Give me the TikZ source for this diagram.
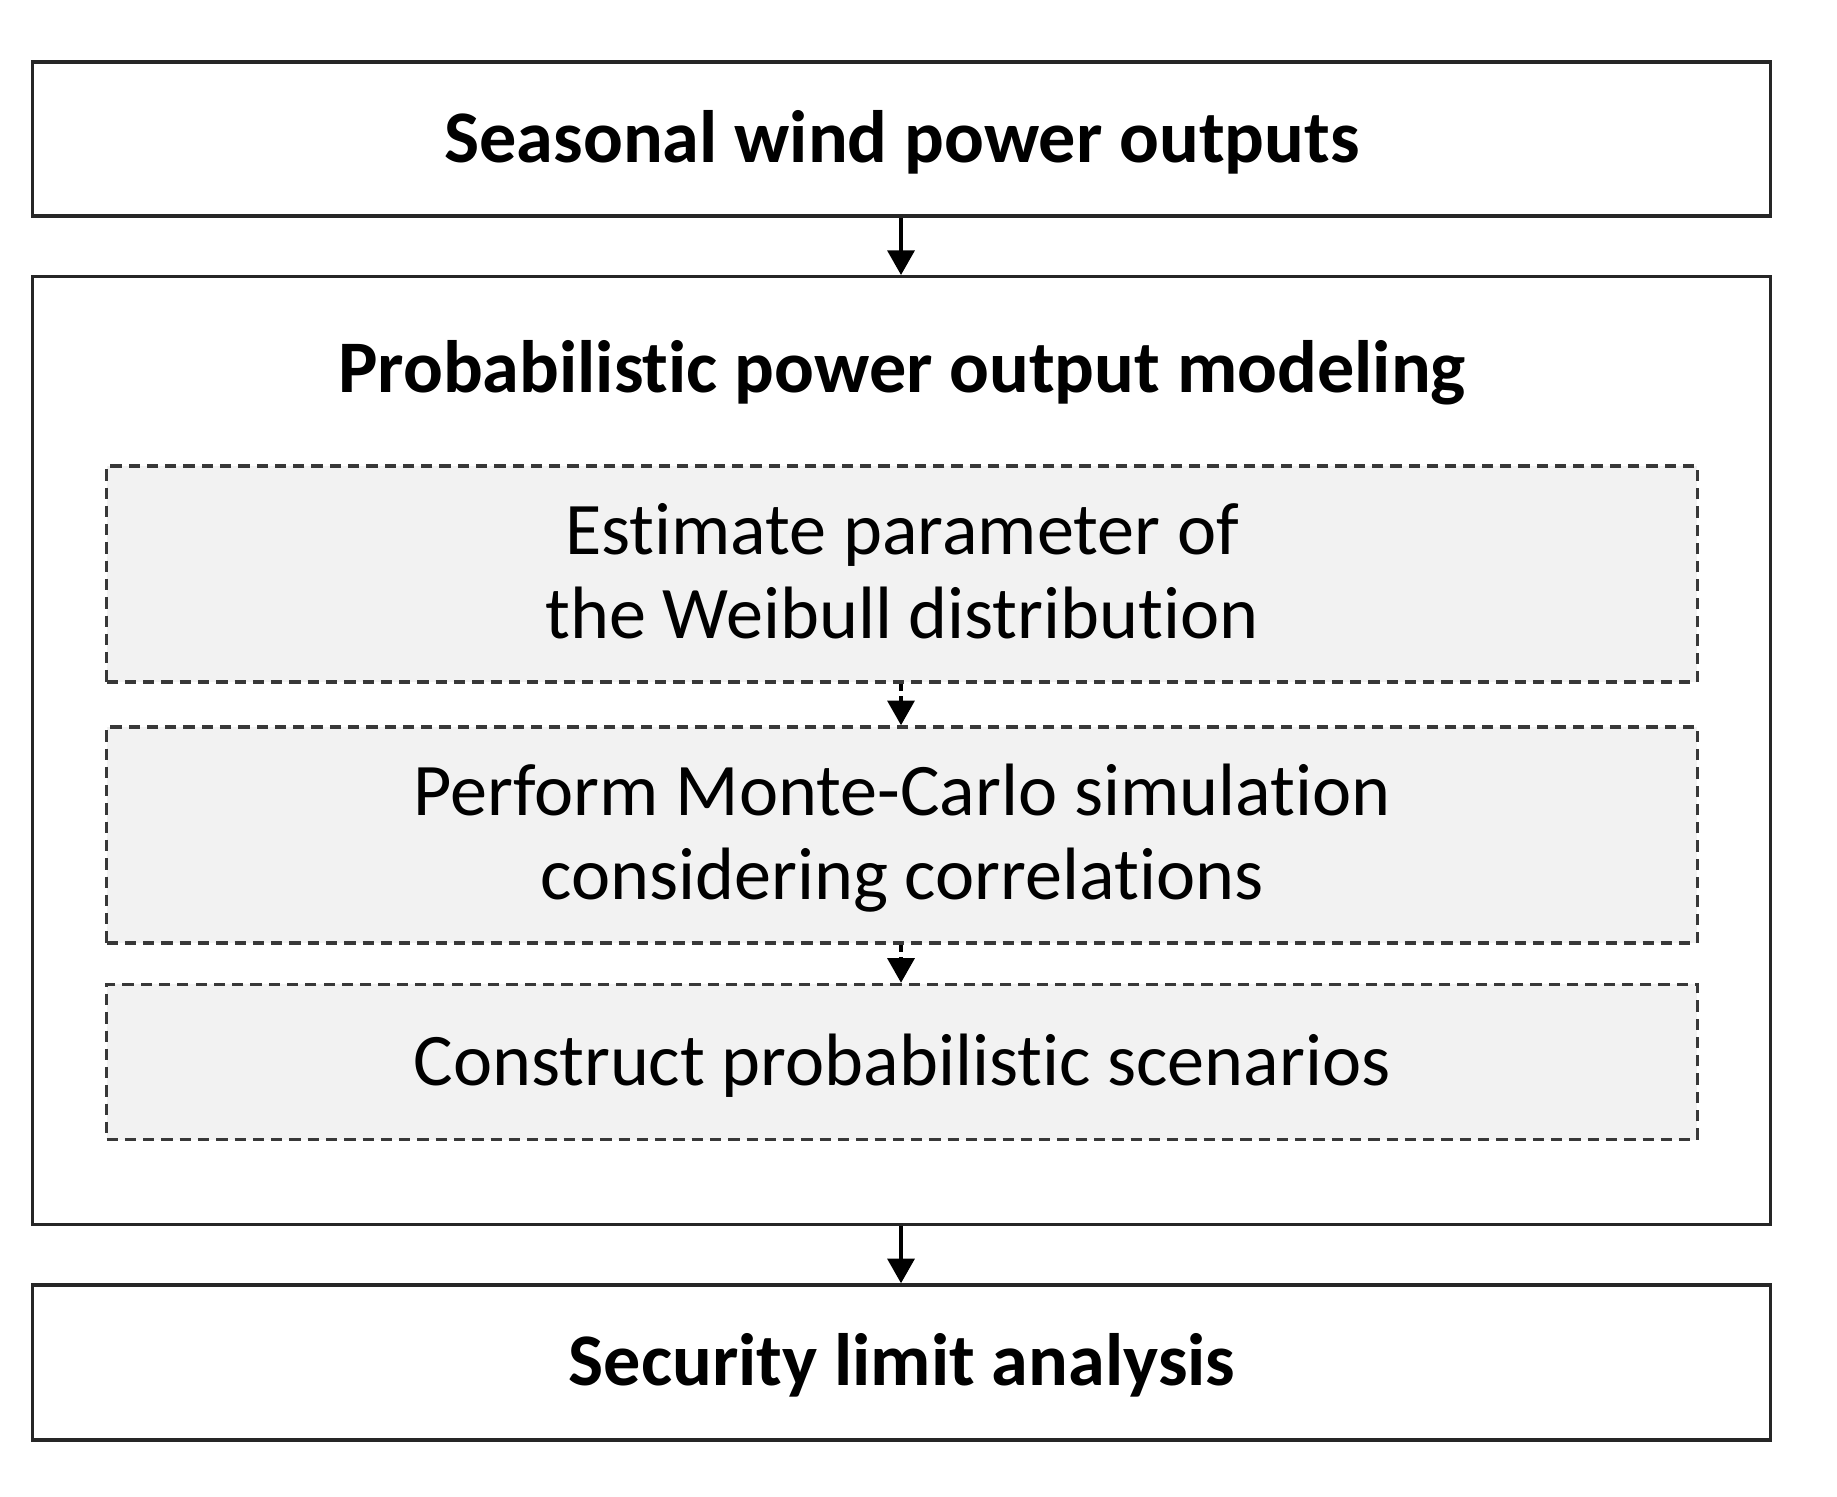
\documentclass[tikz,border=0pt]{standalone}
\usepackage{fontspec}
\setmainfont{Carlito}[Ligatures=NoCommon]
\usetikzlibrary{arrows.meta}
\begin{document}
\begin{tikzpicture}[x=0.01cm,y=-0.01cm,
 solidbox/.style={draw=black!85,line width=1pt,rectangle,inner sep=0pt,fill=white},
 dashbox/.style={draw=black!78,fill=black!5,line width=1pt,dash pattern=on 3.2pt off 2pt,rectangle,inner sep=0pt},
 boldtxt/.style={font=\fontsize{21.1}{25}\selectfont\bfseries,anchor=base,inner sep=0pt},
 regtxt/.style={font=\fontsize{21.1}{25}\selectfont,anchor=base,inner sep=0pt},
 flow/.style={line width=0.9pt,-{Triangle[width=7.7pt,length=7pt]}},
 dflow/.style={flow,dash pattern=on 2pt off 1.5pt}
]
\useasboundingbox[fill=white] (0,0) rectangle (1837,1496);
\coordinate (ax) at (901,0);
% outer boxes
\node[solidbox,minimum width=17.37cm,minimum height=1.54cm] (top) at (901.5,139) {};
\node[solidbox,minimum width=17.37cm,minimum height=9.47cm] (big) at (901.5,750.5) {};
\node[solidbox,minimum width=17.37cm,minimum height=1.55cm] (bot) at (901.5,1362.5) {};
% inner boxes
\node[dashbox,minimum width=15.90cm,minimum height=2.16cm] (in1) at (902,574) {};
\node[dashbox,minimum width=15.90cm,minimum height=2.16cm] (in2) at (902,835) {};
\node[dashbox,minimum width=15.90cm,minimum height=1.55cm] (in3) at (902,1062) {};
% texts
\node[boldtxt] (ttop) at (902,162) {Seasonal wind power outputs};
\node[boldtxt] (tbig) at (902,392) {Probabilistic power output modeling};
\node[regtxt] (t1a) at (902,554) {Estimate parameter of};
\node[regtxt] (t1b) at (902,638) {the Weibull distribution};
\node[regtxt] (t2a) at (902,815) {Perform Monte-Carlo simulation};
\node[regtxt] (t2b) at (902,899) {considering correlations};
\node[regtxt] (t3) at (902,1085) {Construct probabilistic scenarios};
\node[boldtxt] (tbot) at (902,1385) {Security limit analysis};
% connectors
\draw[flow] (top.south -| ax) -- (big.north -| ax);
\draw[dflow] (in1.south -| ax) -- (in2.north -| ax);
\draw[dflow] (in2.south -| ax) -- (in3.north -| ax);
\draw[flow] (big.south -| ax) -- (bot.north -| ax);
\end{tikzpicture}
\end{document}
